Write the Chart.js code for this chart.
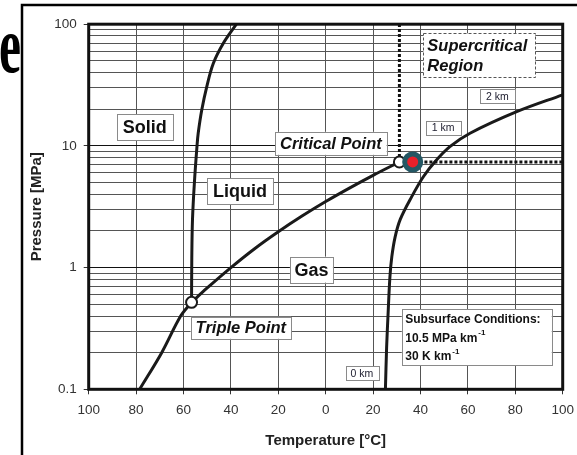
<!DOCTYPE html>
<html>
<head>
<meta charset="utf-8">
<script src="https://cdn.jsdelivr.net/npm/chart.js@4.4.1/dist/chart.umd.min.js"></script>
<style>
  html, body { margin: 0; padding: 0; background: #fff; }
</style>
</head>
<body>
<canvas id="phase" width="577" height="455"></canvas>
<script>
// 軸の目盛り
const xTickValues = [-100, -80, -60, -40, -20, 0, 20, 40, 60, 80, 100];
const xTickLabels = ['100', '80', '60', '40', '20', '0', '20', '40', '60', '80', '100'];
const yGridValues = [0.1, 0.2, 0.3, 0.4, 0.5, 0.6, 0.7, 0.8, 0.9,
                     1, 2, 3, 4, 5, 6, 7, 8, 9,
                     10, 20, 30, 40, 50, 60, 70, 80, 90, 100];
const yLabelValues = [0.1, 1, 10, 100];
const yLabelText = ['0.1', '1', '10', '100'];

// 昇華曲線 (固体-気体)
const sublimationT = [-78.5, -69.2, -61.2, -56.6];
const sublimationP = [0.1, 0.2, 0.4, 0.518];

// 融解曲線 (固体-液体)
const meltingT = [-56.6, -56.5, -56.2, -55.4, -54.3, -53.8, -52.3, -50.2, -47.4, -43.2, -37.7];
const meltingP = [0.518, 1.2, 2.5, 5, 10, 12.7, 19.7, 30.6, 47.7, 69.7, 100];

// 蒸気圧曲線 (液体-気体)
const vaporT = [-56.6, -50, -40, -30, -20, -10, 0, 10, 20, 31.1];
const vaporP = [0.518, 0.68, 1.0, 1.43, 1.97, 2.65, 3.49, 4.5, 5.73, 7.38];

// 地下の温度・圧力条件
const geoT = [25.2, 25.7, 26.4, 27.1, 27.9, 29.3, 31.5, 36.3, 41.2, 46.1, 52.4, 60.9, 80.6, 100];
const geoP = [0.1, 0.22, 0.45, 0.84, 1.23, 1.79, 2.5, 3.83, 5.58, 7.41, 9.85, 12.7, 19.1, 26.3];

// 特別な点
const triplePoint = [-56.6, 0.518];
const criticalPoint = [31.1, 7.38];
const reservoirPoint = [36.7, 7.38];

const X_MIN = -100, X_MAX = 100, Y_MIN = 0.1, Y_MAX = 100;

const toXY = (ts, ps) => ts.map((t, i) => ({ x: t, y: ps[i] }));

// ラベル枠 (位置はデータ座標: 左端の温度, 中心の圧力)
const SANS = '"Liberation Sans", Arial, sans-serif';
const regionLabels = [
  { lines: ['Solid'], t: -88.2, p: 14.25, font: 'bold 18px ' + SANS, padX: 6, h: 26 },
  { lines: ['Liquid'], t: -50.1, p: 4.26, font: 'bold 18px ' + SANS, padX: 6, h: 26 },
  { lines: ['Gas'], t: -15.1, p: 0.962, font: 'bold 18px ' + SANS, padX: 4.5, h: 26 },
  { lines: ['Critical Point'], t: -21.4, p: 10.5, font: 'italic bold 16.5px ' + SANS, padX: 5, h: 23 },
  { lines: ['Triple Point'], t: -57, p: 0.32, font: 'italic bold 16.5px ' + SANS, padX: 5, h: 22 },
  { lines: ['Supercritical', 'Region'], t: 41.2, p: 55.5, font: 'italic bold 16.5px ' + SANS, padX: 4, h: 44, lh: 19.5, w: 112, dash: [3, 2], border: '#555' },
  { lines: ['2 km'], t: 65.1, p: 25.7, font: '10.5px ' + SANS, padX: 6, h: 13.5, color: '#223' },
  { lines: ['1 km'], t: 42.2, p: 14.2, font: '10.5px ' + SANS, padX: 6, h: 13.5, color: '#223' },
  { lines: ['0 km'], t: 8.4, p: 0.136, font: '10.5px ' + SANS, padX: 5, h: 14, color: '#223' },
  { lines: ['Subsurface Conditions:', '10.5 MPa km^-1', '30 K km^-1'], t: 32.1, p: 0.268,
    font: 'bold 12px ' + SANS, supFont: 'bold 8px ' + SANS, padX: 3.5, h: 56, lh: 18.3, w: 150 }
];

function drawLabel(ctx, chart, lab) {
  const left = chart.scales.x.getPixelForValue(lab.t);
  const cy = chart.scales.y.getPixelForValue(lab.p);
  const parts = lab.lines.map(line => line.split('^'));
  const widths = parts.map(([main, sup]) => {
    ctx.font = lab.font;
    let w = ctx.measureText(main).width;
    if (sup) { ctx.font = lab.supFont; w += ctx.measureText(sup).width + 1; }
    return w;
  });
  const w = lab.w || Math.max(...widths) + 2 * lab.padX;
  const top = cy - lab.h / 2;
  ctx.fillStyle = '#fff';
  ctx.fillRect(left, top, w, lab.h);
  ctx.strokeStyle = lab.border || '#8a8a8a';
  ctx.lineWidth = 1;
  ctx.setLineDash(lab.dash || []);
  ctx.strokeRect(Math.round(left) + 0.5, Math.round(top) + 0.5, Math.round(w), Math.round(lab.h));
  ctx.setLineDash([]);

  const n = parts.length;
  const lh = lab.lh || 0;
  ctx.fillStyle = lab.color || '#111';
  ctx.textBaseline = 'middle';
  ctx.textAlign = 'left';
  parts.forEach(([main, sup], i) => {
    const y = cy + (i - (n - 1) / 2) * lh + 1;
    ctx.font = lab.font;
    ctx.fillText(main, left + lab.padX, y);
    if (sup) {
      const mw = ctx.measureText(main).width;
      ctx.font = lab.supFont;
      ctx.fillText(sup, left + lab.padX + mw + 1, y - 5);
    }
  });
}

// 背景・外枠・ラベル・プロット枠を描くプラグイン
const decorPlugin = {
  id: 'decor',
  beforeDraw(chart) {
    const ctx = chart.ctx;
    ctx.save();
    ctx.fillStyle = '#fff';
    ctx.fillRect(0, 0, chart.width, chart.height);
    // スライドの外枠
    ctx.strokeStyle = '#000';
    ctx.lineWidth = 2.5;
    ctx.beginPath();
    ctx.moveTo(22, chart.height);
    ctx.lineTo(22, 5);
    ctx.lineTo(chart.width, 5);
    ctx.stroke();
    // 切れたタイトルの文字
    ctx.beginPath();
    ctx.rect(0, 0, 21, chart.height);
    ctx.clip();
    ctx.fillStyle = '#000';
    ctx.font = 'bold 80px "Liberation Serif", "Times New Roman", serif';
    ctx.textBaseline = 'alphabetic';
    ctx.translate(-1, 72);
    ctx.scale(0.62, 1);
    ctx.fillText('e', 0, 0);
    ctx.restore();
  },
  afterDatasetsDraw(chart) {
    const ctx = chart.ctx;
    const a = chart.chartArea;
    ctx.save();
    regionLabels.forEach(lab => drawLabel(ctx, chart, lab));
    ctx.strokeStyle = '#111';
    ctx.lineWidth = 3;
    ctx.strokeRect(a.left, a.top, a.right - a.left, a.bottom - a.top);
    ctx.restore();
  }
};

const curveStyle = {
  showLine: true,
  borderColor: '#1a1a1a',
  borderWidth: 3,
  pointRadius: 0,
  tension: 0.35,
  order: 3
};

const dottedStyle = {
  showLine: true,
  borderColor: '#111',
  borderWidth: 3,
  borderDash: [3, 2],
  pointRadius: 0,
  order: 2
};

const markerStyle = {
  showLine: false,
  pointRadius: 5.5,
  pointBorderWidth: 2,
  pointBorderColor: '#1a1a1a',
  pointBackgroundColor: '#fff',
  order: 1
};

new Chart(document.getElementById('phase'), {
  type: 'scatter',
  data: {
    datasets: [
      Object.assign({ label: 'sublimation', data: toXY(sublimationT, sublimationP) }, curveStyle),
      Object.assign({ label: 'melting', data: toXY(meltingT, meltingP) }, curveStyle),
      Object.assign({ label: 'vapor', data: toXY(vaporT, vaporP) }, curveStyle),
      Object.assign({ label: 'geotherm', data: toXY(geoT, geoP) }, curveStyle),
      Object.assign({ label: 'critical P', data: [
        { x: criticalPoint[0], y: criticalPoint[1] }, { x: X_MAX, y: criticalPoint[1] }] }, dottedStyle),
      Object.assign({ label: 'critical T', data: [
        { x: criticalPoint[0], y: criticalPoint[1] }, { x: criticalPoint[0], y: Y_MAX }] }, dottedStyle),
      Object.assign({ label: 'triple point', data: [{ x: triplePoint[0], y: triplePoint[1] }] }, markerStyle),
      Object.assign({ label: 'critical point', data: [{ x: criticalPoint[0], y: criticalPoint[1] }] }, markerStyle),
      {
        label: 'reservoir',
        data: [{ x: reservoirPoint[0], y: reservoirPoint[1] }],
        showLine: false,
        pointRadius: 8,
        pointBorderWidth: 5,
        pointBorderColor: '#245764',
        pointBackgroundColor: '#e8202a',
        order: 0
      }
    ]
  },
  options: {
    responsive: false,
    devicePixelRatio: 1,
    animation: false,
    layout: { padding: { left: 22, right: 14.3, top: 24.2, bottom: 0 } },
    plugins: {
      legend: { display: false },
      tooltip: { enabled: false }
    },
    scales: {
      x: {
        type: 'linear',
        min: X_MIN,
        max: X_MAX,
        afterBuildTicks: s => { s.ticks = xTickValues.map(v => ({ value: v })); },
        afterFit: s => { s.height = 65.7; s.paddingLeft = 0; s.paddingRight = 0; },
        ticks: {
          autoSkip: false,
          maxRotation: 0,
          padding: 8,
          color: '#333',
          font: { family: SANS, size: 13.5 },
          callback: v => xTickLabels[xTickValues.indexOf(v)]
        },
        grid: { color: '#555', lineWidth: 1, tickLength: 5, tickColor: '#333' },
        border: { display: false },
        title: {
          display: true,
          text: 'Temperature [°C]',
          color: '#222',
          font: { family: SANS, size: 15, weight: 'bold' },
          padding: { top: 0, bottom: 5 }
        }
      },
      y: {
        type: 'logarithmic',
        min: Y_MIN,
        max: Y_MAX,
        afterBuildTicks: s => { s.ticks = yGridValues.map(v => ({ value: v })); },
        afterFit: s => { s.width = 66.7; s.paddingTop = 0; s.paddingBottom = 0; },
        ticks: {
          autoSkip: false,
          padding: 7,
          color: '#333',
          font: { family: SANS, size: 13.5 },
          callback: v => {
            const i = yLabelValues.indexOf(v);
            return i >= 0 ? yLabelText[i] : '';
          }
        },
        grid: {
          lineWidth: 1,
          tickLength: 5,
          color: c => (c.tick && yLabelValues.includes(c.tick.value)) ? '#111' : '#555',
          tickColor: c => (c.tick && yLabelValues.includes(c.tick.value)) ? '#333' : 'rgba(0,0,0,0)'
        },
        border: { display: false },
        title: {
          display: true,
          text: 'Pressure [MPa]',
          color: '#222',
          font: { family: SANS, size: 15, weight: 'bold' },
          padding: { top: 6, bottom: 0 }
        }
      }
    }
  },
  plugins: [decorPlugin]
});
</script>
</body>
</html>
